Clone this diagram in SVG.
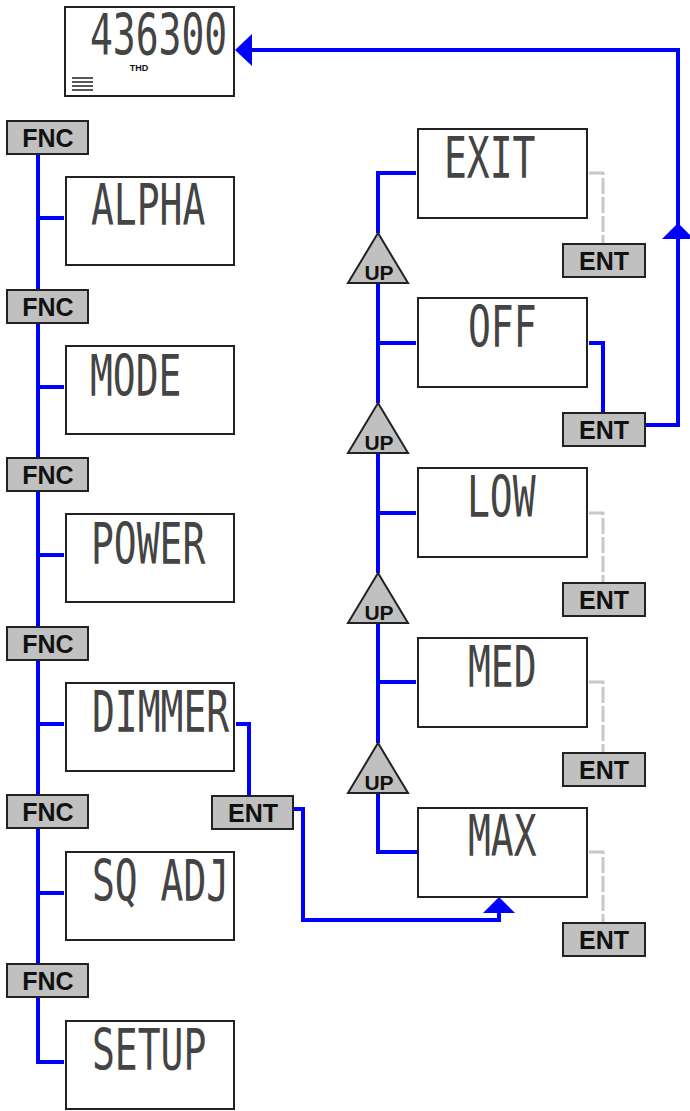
<svg xmlns="http://www.w3.org/2000/svg" width="690" height="1111" viewBox="0 0 690 1111">
<style>
.box{fill:#fff;stroke:#222;stroke-width:2}
.btn{fill:#c0c0c0;stroke:#222;stroke-width:2}
.btxt{font-family:"Liberation Sans",Arial,sans-serif;font-weight:bold;font-size:25px;fill:#111;text-anchor:middle}
.uptxt{font-family:"Liberation Sans",Arial,sans-serif;font-weight:bold;font-size:21px;fill:#111;text-anchor:middle}
.lcd{font-family:"DejaVu Sans Mono","Liberation Mono",monospace;font-size:38px;fill:#444}
.w{fill:none;stroke:#0000ff;stroke-width:4}
.g{fill:none;stroke:#c8c8c8;stroke-width:3;stroke-dasharray:16 3}
.ah{fill:#0000ff}
</style>
<rect width="690" height="1111" fill="#fff"/>

<g id="connectors">
  <path class="w" d="M38 154V290M38 218H64"/>
  <path class="w" d="M38 323V458M38 387H64"/>
  <path class="w" d="M38 491V627M38 555H64"/>
  <path class="w" d="M38 660V795M38 724H64"/>
  <path class="w" d="M38 828V964M38 893H64"/>
  <path class="w" d="M38 997V1062H64"/>
  <path class="w" d="M236 724H249V796"/>
  <path class="w" d="M294 809H303V920H499V912"/>
  <polygon class="ah" points="499,897 483,913 515,913"/>
  <path class="w" d="M416 173H378V233"/>
  <path class="w" d="M378 283V403M378 343H416"/>
  <path class="w" d="M378 453V573M378 513H416"/>
  <path class="w" d="M378 623V743M378 682H416"/>
  <path class="w" d="M378 793V852H417"/>
  <path class="g" d="M589 173H603V244"/>
  <path class="w" d="M589 343H603V413"/>
  <path class="g" d="M589 513H603V583"/>
  <path class="g" d="M589 682H603V753"/>
  <path class="g" d="M589 852H603V923"/>
  <path class="w" d="M646 425H678V50H250"/>
  <polygon class="ah" points="678,223 662,239 694,239"/>
  <polygon class="ah" points="235,50 252,34 252,66"/>
</g>

<g id="display-top">
  <rect class="box" x="65" y="7" width="169" height="89"/>
  <text class="lcd" transform="translate(90,55) scale(1,1.48)">436300</text>
  <text x="139" y="71" font-family="Liberation Sans,Arial,sans-serif" font-weight="bold" font-size="9" text-anchor="middle" fill="#111">THD</text>
  <path d="M72 78H93M72 82H93M72 86H93M72 90H93" stroke="#222" stroke-width="1.6"/>
</g>

<g id="fnc1"><rect class="btn" x="7" y="121" width="81" height="33"/><text class="btxt" x="48" y="147">FNC</text></g>
<g id="fnc2"><rect class="btn" x="7" y="290" width="81" height="33"/><text class="btxt" x="48" y="316">FNC</text></g>
<g id="fnc3"><rect class="btn" x="7" y="458" width="81" height="33"/><text class="btxt" x="48" y="484">FNC</text></g>
<g id="fnc4"><rect class="btn" x="7" y="627" width="81" height="33"/><text class="btxt" x="48" y="653">FNC</text></g>
<g id="fnc5"><rect class="btn" x="7" y="795" width="81" height="33"/><text class="btxt" x="48" y="821">FNC</text></g>
<g id="fnc6"><rect class="btn" x="7" y="964" width="81" height="33"/><text class="btxt" x="48" y="990">FNC</text></g>

<g id="alpha"><rect class="box" x="66" y="177" width="168" height="88"/><text class="lcd" transform="translate(91,225) scale(1,1.48)">ALPHA</text></g>
<g id="mode"><rect class="box" x="66" y="346" width="168" height="88"/><text class="lcd" transform="translate(90,396) scale(1,1.48)">MODE</text></g>
<g id="power"><rect class="box" x="66" y="514" width="168" height="88"/><text class="lcd" transform="translate(91,564) scale(1,1.48)">POWER</text></g>
<g id="dimmer"><rect class="box" x="66" y="683" width="168" height="88"/><text class="lcd" transform="translate(92,732) scale(1,1.48)">DIMMER</text></g>
<g id="sqadj"><rect class="box" x="66" y="852" width="168" height="88"/><text class="lcd" transform="translate(92,901) scale(1,1.48)">SQ ADJ</text></g>
<g id="setup"><rect class="box" x="66" y="1021" width="168" height="88"/><text class="lcd" transform="translate(92,1070) scale(1,1.48)">SETUP</text></g>

<g id="ent-dimmer"><rect class="btn" x="212" y="796" width="81" height="33"/><text class="btxt" x="253" y="822">ENT</text></g>

<g id="exit"><rect class="box" x="418" y="129" width="169" height="89"/><text class="lcd" transform="translate(444,178) scale(1,1.48)">EXIT</text></g>
<g id="off"><rect class="box" x="418" y="298" width="169" height="89"/><text class="lcd" transform="translate(468,347) scale(1,1.48)">OFF</text></g>
<g id="low"><rect class="box" x="418" y="468" width="169" height="89"/><text class="lcd" transform="translate(467,517) scale(1,1.48)">LOW</text></g>
<g id="med"><rect class="box" x="418" y="638" width="169" height="89"/><text class="lcd" transform="translate(468,687) scale(1,1.48)">MED</text></g>
<g id="max"><rect class="box" x="418" y="808" width="169" height="89"/><text class="lcd" transform="translate(468,856) scale(1,1.48)">MAX</text></g>

<g id="ent1"><rect class="btn" x="563" y="244" width="82" height="33"/><text class="btxt" x="604" y="270">ENT</text></g>
<g id="ent2"><rect class="btn" x="563" y="413" width="82" height="33"/><text class="btxt" x="604" y="439">ENT</text></g>
<g id="ent3"><rect class="btn" x="563" y="583" width="82" height="33"/><text class="btxt" x="604" y="609">ENT</text></g>
<g id="ent4"><rect class="btn" x="563" y="753" width="82" height="33"/><text class="btxt" x="604" y="779">ENT</text></g>
<g id="ent5"><rect class="btn" x="563" y="923" width="82" height="33"/><text class="btxt" x="604" y="949">ENT</text></g>

<g id="up1"><polygon class="btn" points="378,233 348,283 408,283"/><text class="uptxt" x="379" y="280">UP</text></g>
<g id="up2"><polygon class="btn" points="378,403 348,453 408,453"/><text class="uptxt" x="379" y="450">UP</text></g>
<g id="up3"><polygon class="btn" points="378,573 348,623 408,623"/><text class="uptxt" x="379" y="620">UP</text></g>
<g id="up4"><polygon class="btn" points="378,743 348,793 408,793"/><text class="uptxt" x="379" y="790">UP</text></g>
</svg>
